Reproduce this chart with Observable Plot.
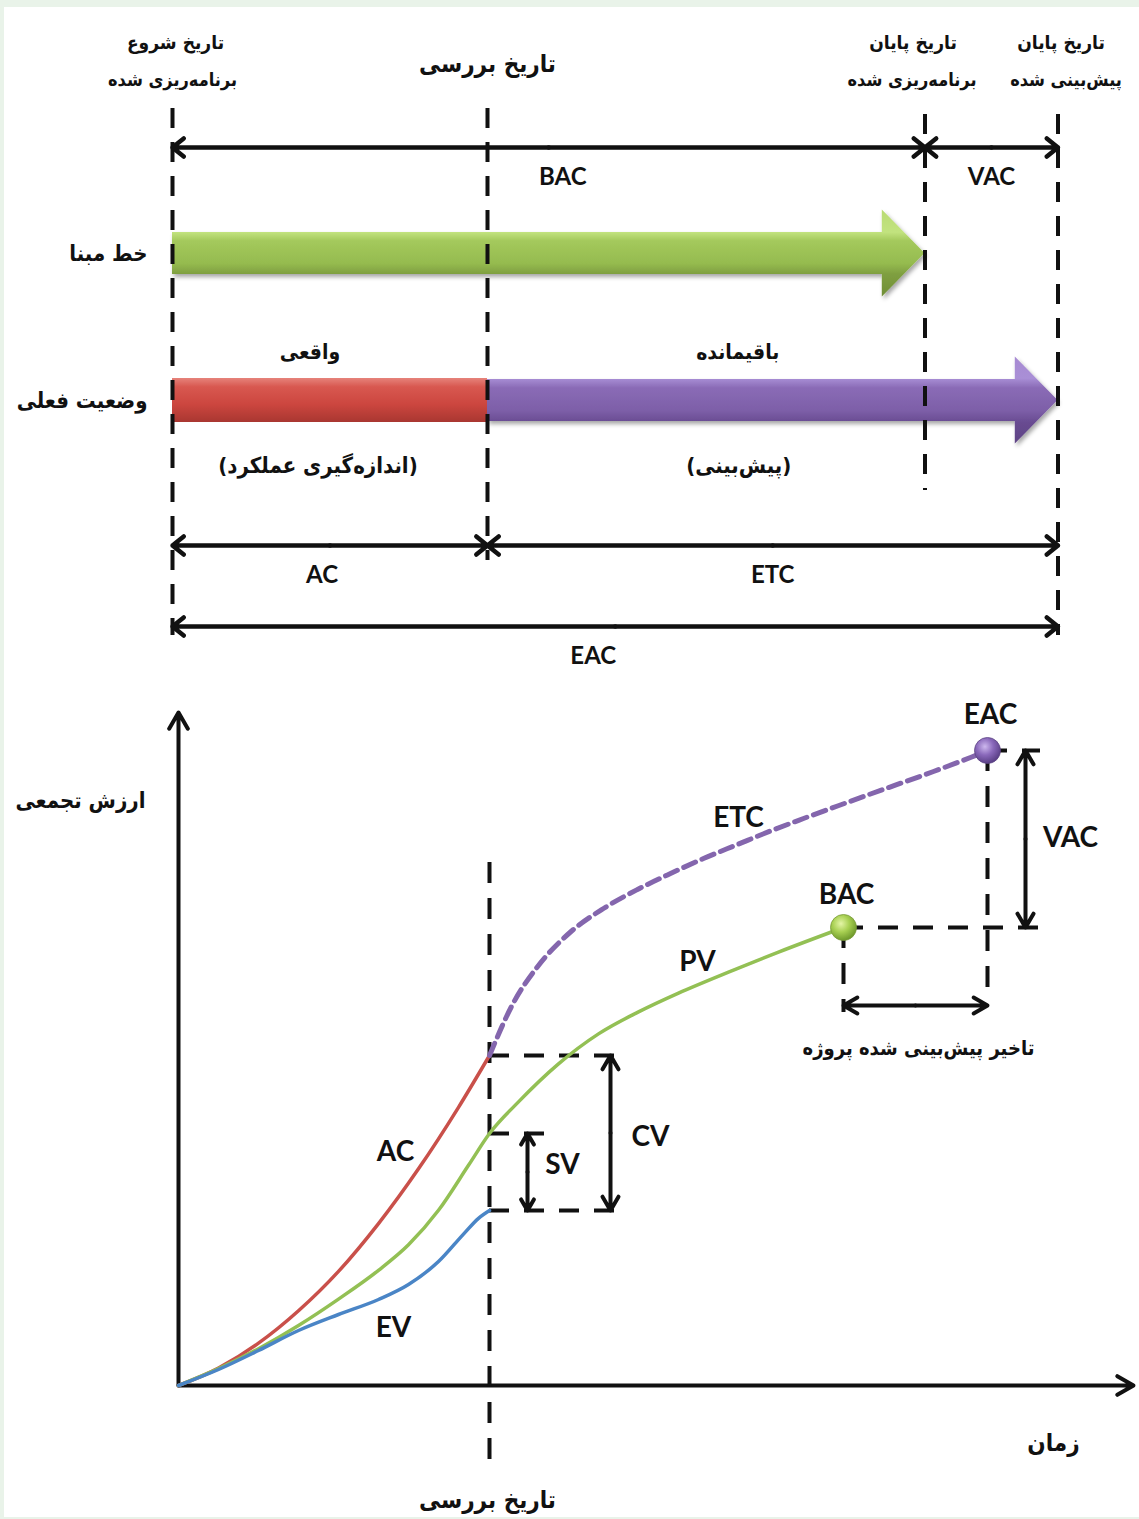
<!DOCTYPE html>
<html lang="fa">
<head>
<meta charset="utf-8">
<script src="https://cdn.jsdelivr.net/npm/d3@7"></script>
<script src="https://cdn.jsdelivr.net/npm/@observablehq/plot@0.6"></script>
<style>
html,body{margin:0;padding:0;background:#e9f3e9;}
#page{position:relative;width:1139px;height:1519px;overflow:hidden;background:#e9f3e9;}
#panel{position:absolute;left:4px;top:7px;right:0;bottom:2px;background:#fff;}
.chart{position:absolute;left:0;}
</style>
</head>
<body>
<div id="page"><div id="panel"></div><div id="top" class="chart" style="top:0"></div><div id="bottom" class="chart" style="top:680px"></div></div>
<script>
// ================= DATA =================
// --- Top diagram: schedule (months) ---
const milestoneIds    = ["start", "status", "plannedEnd", "forecastEnd"];
const milestoneMonths = [0, 9, 21.5, 25.3];
const headerLines = [
  ["تاریخ شروع", "برنامه‌ریزی شده"],
  ["تاریخ بررسی"],
  ["تاریخ پایان", "برنامه‌ریزی شده"],
  ["تاریخ پایان", "پیش‌بینی شده"]
];
const rowLabels = ["خط مبنا", "وضعیت فعلی"];
const spanNames = ["BAC", "VAC", "AC", "ETC", "EAC"];
const spanFrom  = ["start", "plannedEnd", "start", "status", "start"];
const spanTo    = ["plannedEnd", "forecastEnd", "status", "forecastEnd", "forecastEnd"];
const barNotes  = [["واقعی", "(اندازه‌گیری عملکرد)"], ["باقیمانده", "(پیش‌بینی)"]];

// --- Bottom diagram: cumulative value vs time ---
const acTime   = [0, 4, 8, 12, 16, 20, 24, 28, 31.1];
const acValue  = [0, 1.74, 4.23, 7.47, 11.41, 16.19, 21.67, 27.82, 33.0];
const pvTime   = [0, 4, 8, 12, 16, 20, 23, 26, 29, 31.1, 34, 38, 42, 46, 50, 55, 60, 66.5];
const pvValue  = [0, 1.68, 3.68, 6.0, 8.64, 11.52, 14.07, 17.52, 22.02, 25.2, 28.36, 32.16, 35.16, 37.36, 39.24, 41.34, 43.34, 45.8];
const evTime   = [0, 4, 8, 12, 16, 20, 23, 26, 28.5, 30, 31.1];
const evValue  = [0, 1.6, 3.5, 5.5, 7.1, 8.6, 10.1, 12.39, 15.14, 16.72, 17.5];
const etcTime  = [31.1, 33.5, 35.9, 39.2, 42.5, 45.9, 49.2, 52.5, 55.9, 59.2, 62.5, 65.9, 69.2, 75.5, 79.2, 80.9];
const etcValue = [33.0, 38.28, 41.88, 45.35, 47.7, 49.6, 51.2, 52.7, 54.1, 55.45, 56.7, 57.95, 59.15, 61.4, 62.8, 63.5];
const curveNames    = ["AC", "PV", "EV", "ETC"];
const pointNames    = ["BAC", "EAC"];
const varianceNames = ["SV", "CV", "VAC"];
const axisTitles    = ["ارزش تجمعی", "زمان", "تاریخ بررسی"];
const delayLabel    = "تاخیر پیش‌بینی شده پروژه";

// ================= LAYOUT / STYLE =================
const W = 1139;
const FA = "'DejaVu Sans Condensed', 'DejaVu Sans', sans-serif";
const EN = "Lato, 'Open Sans', sans-serif";
const INK = "#111";
const PXM = 35; // px per month, top diagram
const PXT = 10; // px per unit, bottom diagram
const M = Object.fromEntries(milestoneIds.map((k, i) => [k, milestoneMonths[i]]));
const lane = {head1: 42, headStatus: 64, head2: 80, bacArrow: 147, baseline: 253,
  upperNote: 352, current: 400, lowerNote: 465, acArrow: 545, eacArrow: 626, labelGap: 30};
const lineExtent = {start: [108, 635], status: [108, 560], plannedEnd: [114, 490], forecastEnd: [114, 635]};
const spanLane = ["bacArrow", "bacArrow", "acArrow", "acArrow", "eacArrow"];
const spanDx = [14, 0, -8, 0, -22];
const headerDx = [[3, 0], [0], [-12, -13], [3, 8]];
const bodyHalf = 21, headHalf = 43.5, headLen = 1.22;

// ================= TOP PLOT =================
const mid = (a, b) => (a + b) / 2;
function fatArrow(from, to, center) {
  const base = to - headLen;
  return [
    {m: from, y: center - bodyHalf}, {m: base, y: center - bodyHalf}, {m: base, y: center - headHalf},
    {m: to, y: center},
    {m: base, y: center + headHalf}, {m: base, y: center + bodyHalf}, {m: from, y: center + bodyHalf}
  ];
}
// custom polygon mark drawn through Plot's own x/y scales
function polygonMark(points, fill) {
  return (index, scales) => {
    const g = d3.create("svg:g").attr("filter", "url(#sh)");
    const path = d3.line().x(d => scales.x(d.m)).y(d => scales.y(d.y));
    g.append("path").attr("d", path(points) + "Z").attr("fill", fill);
    return g.node();
  };
}
const spans = spanNames.map((n, i) => ({name: n, a: M[spanFrom[i]], b: M[spanTo[i]], y: lane[spanLane[i]], dx: spanDx[i]}));
const halfArrows = spans.flatMap(s => [
  {x1: mid(s.a, s.b), x2: s.a, y: s.y},
  {x1: mid(s.a, s.b), x2: s.b, y: s.y}
]);
const headers = headerLines.flatMap((ls, i) => ls.map((t, j) => ({
  text: t, x: M[milestoneIds[i]] + headerDx[i][j] / PXM,
  y: ls.length === 1 ? lane.headStatus : (j === 0 ? lane.head1 : lane.head2),
  size: ls.length === 1 ? 24 : (j === 0 ? 19 : 18)
})));
const lines = milestoneIds.map(k => ({m: M[k], y1: lineExtent[k][0], y2: lineExtent[k][1]}));
const notes = [
  {text: barNotes[0][0], x: mid(M.start, M.status) - 20 / PXM, y: lane.upperNote, size: 21},
  {text: barNotes[0][1], x: mid(M.start, M.status) - 12 / PXM, y: lane.lowerNote, size: 22},
  {text: barNotes[1][0], x: mid(M.status, M.forecastEnd) - 35 / PXM, y: lane.upperNote, size: 21},
  {text: barNotes[1][1], x: mid(M.status, M.forecastEnd) - 34 / PXM, y: lane.lowerNote, size: 22}
];

const topPlot = Plot.plot({
  width: W, height: 680, margin: 0,
  style: {background: "transparent", overflow: "visible"},
  x: {domain: [-172 / PXM, (W - 172) / PXM], range: [0, W], axis: null},
  y: {domain: [0, 680], range: [0, 680], axis: null},
  marks: [
    polygonMark(fatArrow(M.start, M.plannedEnd, lane.baseline), "url(#gGreen)"),
    polygonMark(fatArrow(M.status, M.forecastEnd, lane.current), "url(#gPurple)"),
    Plot.rect([{a: M.start, b: M.status}], {x1: "a", x2: "b", y1: lane.current - 22, y2: lane.current + 22, fill: "url(#gRed)", ariaLabel: "shadow"}),
    Plot.ruleX(lines, {x: "m", y1: "y1", y2: "y2", stroke: INK, strokeWidth: 4, strokeDasharray: "20,14"}),
    Plot.arrow(halfArrows, {x1: "x1", x2: "x2", y1: "y", y2: "y", stroke: INK, strokeWidth: 4.5, headLength: 4.8, headAngle: 78, ariaLabel: "shadow"}),
    Plot.text(headers, {x: "x", y: "y", text: "text", fontSize: d => d.size, fontFamily: FA, fontWeight: "bold", fill: INK}),
    Plot.text(spans, {x: d => mid(d.a, d.b) + d.dx / PXM, y: d => d.y + lane.labelGap, text: "name", fontSize: 24, fontFamily: EN, fontWeight: "bold", fill: INK}),
    Plot.text(rowLabels.map((t, i) => ({t, y: i === 0 ? lane.baseline : lane.current})), {x: M.start - 25 / PXM, y: "y", text: "t", textAnchor: "end", fontSize: 22, fontFamily: FA, fontWeight: "bold", fill: INK}),
    Plot.text(notes, {x: "x", y: "y", text: "text", fontSize: d => d.size, fontFamily: FA, fontWeight: "bold", fill: INK})
  ]
});

// ================= BOTTOM PLOT =================
const series = (t, v) => t.map((x, i) => ({t: x, v: v[i]}));
const statusT = acTime[acTime.length - 1];
const acS = acValue[acValue.length - 1], evS = evValue[evValue.length - 1], pvS = pvValue[pvTime.indexOf(statusT)];
const bac = {t: pvTime[pvTime.length - 1], v: pvValue[pvValue.length - 1]};
const eac = {t: etcTime[etcTime.length - 1], v: etcValue[etcValue.length - 1]};
const ann = {yTop: 67.3, xEnd: 95.5, statusTop: 52.3, statusBottom: -7.4, cvEnd: 44.0, cvArrow: 43.2,
  svEnd: 36.9, svArrow: 34.9, bacDashEnd: 87.2, eacDashEnd: 86.2, eacDrop: 38.5, bacDrop: 37.3, delayV: 38.0, vacArrow: 84.7};
const hDashes = [
  {a: statusT, b: ann.cvEnd, v: acS}, {a: statusT, b: ann.cvEnd, v: evS}, {a: statusT, b: ann.svEnd, v: pvS},
  {a: bac.t, b: ann.bacDashEnd, v: bac.v}, {a: eac.t, b: ann.eacDashEnd, v: eac.v}
];
const vDashes = [
  {t: statusT, a: ann.statusTop, b: ann.statusBottom},
  {t: eac.t, a: eac.v, b: ann.eacDrop},
  {t: bac.t, a: bac.v, b: ann.bacDrop}
];
const vArrows = [
  {t: ann.cvArrow, a: acS, b: evS}, {t: ann.svArrow, a: pvS, b: evS}, {t: ann.vacArrow, a: eac.v, b: bac.v}
].flatMap(d => [{x1: d.t, x2: d.t, y1: mid(d.a, d.b), y2: d.a}, {x1: d.t, x2: d.t, y1: mid(d.a, d.b), y2: d.b}]);
const hArrows = [{x1: mid(bac.t, eac.t), x2: bac.t, y1: ann.delayV, y2: ann.delayV}, {x1: mid(bac.t, eac.t), x2: eac.t, y1: ann.delayV, y2: ann.delayV}];
const axes = [{x1: 0, y1: 0, x2: 0, y2: ann.yTop}, {x1: 0, y1: 0, x2: ann.xEnd, y2: 0}];
const enLabels = [
  {text: curveNames[0], t: 21.7, v: 23.3}, {text: curveNames[1], t: 51.9, v: 42.3},
  {text: curveNames[2], t: 21.5, v: 5.7}, {text: curveNames[3], t: 56.0, v: 56.7},
  {text: pointNames[0], t: 66.8, v: 49.0}, {text: pointNames[1], t: 81.2, v: 67.0},
  {text: varianceNames[0], t: 38.4, v: 22.0}, {text: varianceNames[1], t: 47.2, v: 24.8}, {text: varianceNames[2], t: 89.2, v: 54.7}
];
const faLabels = [
  {text: axisTitles[1], t: 87.5, v: -5.8, size: 24},
  {text: axisTitles[2], t: 30.9, v: -11.5, size: 24},
  {text: delayLabel, t: 74.0, v: 33.7, size: 20}
];
const yTitle = [{text: axisTitles[0], t: -33 / PXT, v: 58.5}];

const bottomPlot = Plot.plot({
  width: W, height: 839, margin: 0,
  style: {background: "transparent", overflow: "visible"},
  x: {domain: [-178 / PXT, (W - 178) / PXT], range: [0, W], axis: null},
  y: {domain: [-134 / PXT, 705 / PXT], range: [839, 0], axis: null},
  marks: [
    Plot.arrow(axes, {x1: "x1", y1: "y1", x2: "x2", y2: "y2", stroke: INK, strokeWidth: 4, headLength: 7, headAngle: 60}),
    Plot.ruleX(vDashes, {x: "t", y1: "a", y2: "b", stroke: INK, strokeWidth: 4, strokeDasharray: "21,15"}),
    Plot.ruleY(hDashes, {y: "v", x1: "a", x2: "b", stroke: INK, strokeWidth: 4, strokeDasharray: "20,15"}),
    Plot.line(series(acTime, acValue), {x: "t", y: "v", stroke: "#c9504a", strokeWidth: 3.5, curve: "monotone-x"}),
    Plot.line(series(pvTime, pvValue), {x: "t", y: "v", stroke: "#93c054", strokeWidth: 3.5, curve: "monotone-x"}),
    Plot.line(series(evTime, evValue), {x: "t", y: "v", stroke: "#4a85c6", strokeWidth: 3.5, curve: "monotone-x"}),
    Plot.line(series(etcTime, etcValue), {x: "t", y: "v", stroke: "#8466ad", strokeWidth: 5, strokeDasharray: "13,7", curve: "monotone-x"}),
    Plot.arrow(vArrows, {x1: "x1", y1: "y1", x2: "x2", y2: "y2", stroke: INK, strokeWidth: 4, headLength: 6, headAngle: 60}),
    Plot.arrow(hArrows, {x1: "x1", y1: "y1", x2: "x2", y2: "y2", stroke: INK, strokeWidth: 4, headLength: 6, headAngle: 60}),
    Plot.dot([bac], {x: "t", y: "v", r: 13, fill: "url(#ballGreen)", stroke: "#7a9a3a", strokeWidth: 0.8}),
    Plot.dot([eac], {x: "t", y: "v", r: 13, fill: "url(#ballPurple)", stroke: "#5e4585", strokeWidth: 0.8}),
    Plot.text(enLabels, {x: "t", y: "v", text: "text", fontSize: 28, fontFamily: EN, fontWeight: "bold", fill: INK}),
    Plot.text(faLabels, {x: "t", y: "v", text: "text", fontSize: d => d.size, fontFamily: FA, fontWeight: "bold", fill: INK}),
    Plot.text(yTitle, {x: "t", y: "v", text: "text", textAnchor: "end", fontSize: 22, fontFamily: FA, fontWeight: "bold", fill: INK})
  ]
});

// ================= DEFS (gradients, shadow) =================
function addDefs(svg, html) {
  const defs = document.createElementNS("http://www.w3.org/2000/svg", "defs");
  defs.innerHTML = html;
  svg.insertBefore(defs, svg.firstChild);
}
addDefs(topPlot, `
<linearGradient id="gGreen" x1="0" y1="0" x2="0" y2="1">
  <stop offset="0" stop-color="#b9db74"/><stop offset="0.26" stop-color="#c2e37f"/>
  <stop offset="0.36" stop-color="#a4c95c"/><stop offset="0.62" stop-color="#95bb4f"/>
  <stop offset="0.74" stop-color="#7f9f40"/><stop offset="1" stop-color="#6f8e35"/>
</linearGradient>
<linearGradient id="gPurple" x1="0" y1="0" x2="0" y2="1">
  <stop offset="0" stop-color="#a78ad2"/><stop offset="0.25" stop-color="#a98fd6"/>
  <stop offset="0.36" stop-color="#8a6bb6"/><stop offset="0.62" stop-color="#7d5fa8"/>
  <stop offset="0.76" stop-color="#684b91"/><stop offset="1" stop-color="#5e4385"/>
</linearGradient>
<linearGradient id="gRed" x1="0" y1="0" x2="0" y2="1">
  <stop offset="0" stop-color="#e6837b"/><stop offset="0.2" stop-color="#d85850"/>
  <stop offset="0.6" stop-color="#cc463f"/><stop offset="1" stop-color="#a93731"/>
</linearGradient>
<filter id="sh" filterUnits="userSpaceOnUse" x="0" y="0" width="1139" height="680">
  <feDropShadow dx="2" dy="3" stdDeviation="2" flood-color="#000" flood-opacity="0.35"/>
</filter>`);
addDefs(bottomPlot, `
<radialGradient id="ballGreen" cx="0.4" cy="0.35" r="0.65">
  <stop offset="0" stop-color="#e4f5a6"/><stop offset="0.5" stop-color="#a8d052"/><stop offset="1" stop-color="#6f9a2c"/>
</radialGradient>
<radialGradient id="ballPurple" cx="0.4" cy="0.35" r="0.65">
  <stop offset="0" stop-color="#cdb8ee"/><stop offset="0.5" stop-color="#8a69bb"/><stop offset="1" stop-color="#5a3f86"/>
</radialGradient>`);
topPlot.querySelectorAll('[aria-label="shadow"]').forEach(g => g.setAttribute("filter", "url(#sh)"));

document.getElementById("top").appendChild(topPlot);
document.getElementById("bottom").appendChild(bottomPlot);
</script>
</body>
</html>
